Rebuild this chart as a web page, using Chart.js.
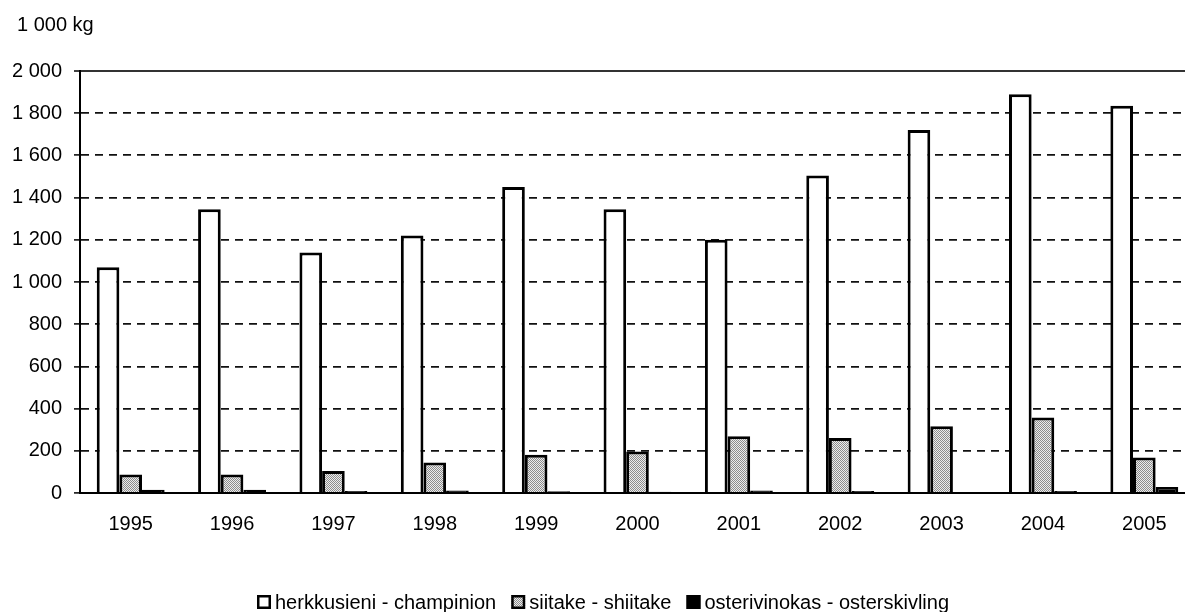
<!DOCTYPE html>
<html>
<head>
<meta charset="utf-8">
<script src="https://cdn.jsdelivr.net/npm/chart.js@4"></script>
<style>
  html, body { margin: 0; padding: 0; background: #fff; overflow: hidden; }
  #wrap { width: 1200px; height: 612px; }
</style>
</head>
<body>
<div id="wrap"><canvas id="c" width="1200" height="612"></canvas></div>
<script>
// Mushroom production, 1 000 kg
const years = ['1995','1996','1997','1998','1999','2000','2001','2002','2003','2004','2005'];
const champinion = [1070, 1345, 1140, 1220, 1450, 1345, 1200, 1505, 1720, 1890, 1835];
const shiitake   = [88, 88, 104, 144, 181, 197, 269, 261, 316, 358, 168];
const osterskivling = [15, 15, 10, 12, 8, 6, 12, 10, 3, 10, 28];
const seriesNames = ['herkkusieni - champinion', 'siitake - shiitake', 'osterivinokas - osterskivling'];
const yTicks = [0, 200, 400, 600, 800, 1000, 1200, 1400, 1600, 1800, 2000];
const unitLabel = '1 000 kg';

const FONT = '"Liberation Sans", Arial, Helvetica, sans-serif';

// grey stipple fill
function stipple() {
  const p = document.createElement('canvas');
  p.width = 2; p.height = 2;
  const g = p.getContext('2d');
  g.fillStyle = '#ececec'; g.fillRect(0, 0, 2, 2);
  g.fillStyle = '#8c8c8c'; g.fillRect(0, 0, 1, 1); g.fillRect(1, 1, 1, 1);
  return g.createPattern(p, 'repeat');
}
const grey = stipple();

function spaced(v) {
  return String(v).replace(/\B(?=(\d{3})+(?!\d))/g, ' ');
}

const decor = {
  id: 'decor',
  afterDraw(chart) {
    const ctx = chart.ctx;
    ctx.save();
    ctx.fillStyle = '#000';
    ctx.font = '20px ' + FONT;
    ctx.textBaseline = 'alphabetic';
    ctx.textAlign = 'left';
    ctx.fillText(unitLabel, 17, 31);

    // legend row
    let x = 257;
    const base = 609, box = 14;
    chart.data.datasets.forEach((ds) => {
      ctx.fillStyle = ds.backgroundColor;
      ctx.fillRect(x, base - box, box, box);
      ctx.strokeStyle = '#000';
      ctx.lineWidth = 2.5;
      ctx.strokeRect(x + 1.25, base - box + 1.25, box - 2.5, box - 2.5);
      ctx.fillStyle = '#000';
      ctx.fillText(ds.label, x + box + 4, base);
      x += box + 4 + ctx.measureText(ds.label).width + 15;
    });
    ctx.restore();
  }
};

new Chart(document.getElementById('c'), {
  type: 'bar',
  data: {
    labels: years,
    datasets: [
      { label: seriesNames[0], data: champinion, backgroundColor: '#ffffff', borderColor: '#000', borderWidth: 3 },
      { label: seriesNames[1], data: shiitake, backgroundColor: grey, borderColor: '#000', borderWidth: 3 },
      { label: seriesNames[2], data: osterskivling, backgroundColor: '#000000', borderColor: '#000', borderWidth: 3 }
    ]
  },
  options: {
    responsive: false,
    animation: false,
    devicePixelRatio: 1,
    layout: { padding: { left: 0, right: 5, top: 71, bottom: 69 } },
    datasets: { bar: { categoryPercentage: 0.67, barPercentage: 1.0 } },
    plugins: { legend: { display: false }, tooltip: { enabled: false }, title: { display: false } },
    scales: {
      x: {
        grid: { display: false, drawTicks: false },
        border: { display: true, color: '#000', width: 2 },
        ticks: { color: '#000', font: { family: FONT, size: 20 }, padding: 19, maxRotation: 0 },
        afterFit(s) { s.height = 50; }
      },
      y: {
        min: 0, max: 2000,
        afterBuildTicks(s) { s.ticks = yTicks.map(v => ({ value: v })); },
        grid: {
          color: (c) => c.tick && c.tick.value === 2000 ? '#333' : '#111',
          lineWidth: (c) => c.tick && c.tick.value === 2000 ? 2 : 1.8,
          tickLength: 6, tickColor: '#000', tickWidth: 1.5, tickBorderDash: []
        },
        border: {
          display: true, color: '#000', width: 2,
          dash: (c) => c.tick && c.tick.value === 2000 ? [] : [8, 6]
        },
        ticks: {
          color: '#000', font: { family: FONT, size: 20 }, padding: 12,
          callback: (v) => spaced(v)
        },
        afterFit(s) { s.width = 80; }
      }
    }
  },
  plugins: [decor]
});
</script>
</body>
</html>
